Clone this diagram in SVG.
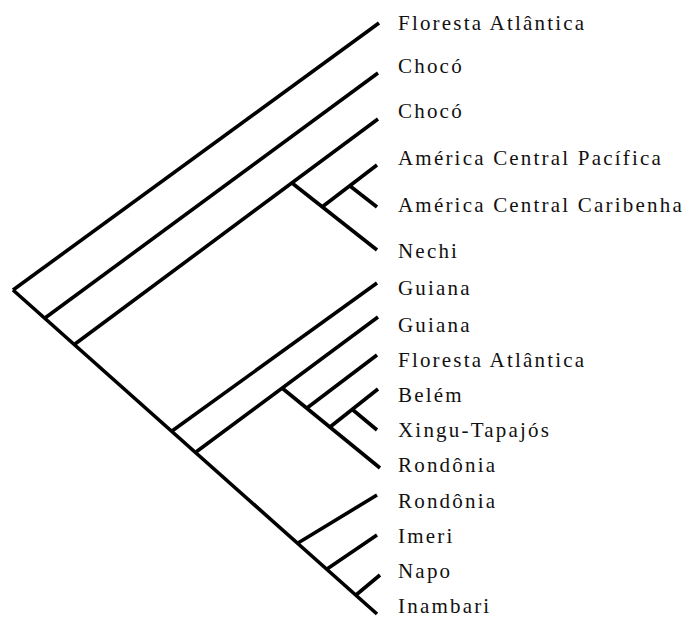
<svg xmlns="http://www.w3.org/2000/svg" width="694" height="618" viewBox="0 0 694 618">
<style>
.e{stroke:#000;stroke-width:3.6;fill:none;stroke-linecap:butt}
text{font-family:'Liberation Serif','DejaVu Serif','Times New Roman',serif;font-size:21px;letter-spacing:2.2px;fill:#111}
</style>
<rect width="694" height="618" fill="#fff"/>
<g id="connectors">
<path class="e" d="M13,290 L377,614"/>
<path class="e" d="M13,290 L379,23"/>
<path class="e" d="M45,318 L378,73"/>
<path class="e" d="M75,344 L378,119"/>
<path class="e" d="M292,183 L377,250"/>
<path class="e" d="M322,207 L377,165"/>
<path class="e" d="M350,186 L377,207"/>
<path class="e" d="M172,431 L377,283"/>
<path class="e" d="M196,452 L378,317"/>
<path class="e" d="M282,388 L380,468"/>
<path class="e" d="M307,408 L377,355"/>
<path class="e" d="M330,427 L378,389"/>
<path class="e" d="M353,410 L377,430"/>
<path class="e" d="M298,543 L377,495"/>
<path class="e" d="M327,569 L377,535"/>
<path class="e" d="M356,595 L380,575"/>
</g>
<g id="labels" font-family="Liberation Serif, serif">
<g id="n1"><text x="398" y="30">Floresta Atlântica</text></g>
<g id="n2"><text x="398" y="73">Chocó</text></g>
<g id="n3"><text x="398" y="118">Chocó</text></g>
<g id="n4"><text x="398" y="165">América Central Pacífica</text></g>
<g id="n5"><text x="398" y="212">América Central Caribenha</text></g>
<g id="n6"><text x="398" y="258">Nechi</text></g>
<g id="n7"><text x="398" y="295">Guiana</text></g>
<g id="n8"><text x="398" y="332">Guiana</text></g>
<g id="n9"><text x="398" y="367">Floresta Atlântica</text></g>
<g id="n10"><text x="398" y="402">Belém</text></g>
<g id="n11"><text x="398" y="437">Xingu-Tapajós</text></g>
<g id="n12"><text x="398" y="472">Rondônia</text></g>
<g id="n13"><text x="398" y="508">Rondônia</text></g>
<g id="n14"><text x="398" y="543">Imeri</text></g>
<g id="n15"><text x="398" y="578">Napo</text></g>
<g id="n16"><text x="398" y="613">Inambari</text></g>
</g>
</svg>
